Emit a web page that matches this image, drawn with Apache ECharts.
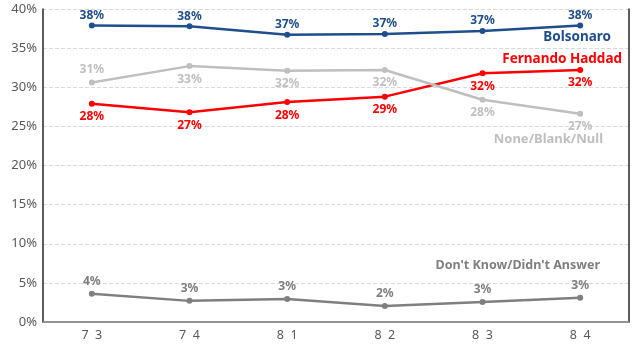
<!DOCTYPE html>
<html><head><meta charset="utf-8">
<script src="https://cdn.jsdelivr.net/npm/echarts@6/dist/echarts.min.js"></script>
<style>html,body{margin:0;padding:0;background:#fff}#c{width:640px;height:345px}</style>
</head><body><div id="c"></div>
<script>
const categories = ['7  3', '7  4', '8  1', '8  2', '8  3', '8  4'];
const bolsonaro = [37.9, 37.8, 36.7, 36.8, 37.2, 37.9];
const haddad = [27.9, 26.8, 28.1, 28.8, 31.8, 32.2];
const noneBlank = [30.6, 32.7, 32.1, 32.2, 28.4, 26.6];
const dontKnow = [3.6, 2.7, 2.95, 2.05, 2.55, 3.1];
const yTicks = [0, 5, 10, 15, 20, 25, 30, 35, 40];

const font = 'Noto Sans';
function mk(name, data, color, posFn, dist) {
  return {
    name, type: 'line', data: data.map((v, i) => ({
      value: v,
      label: { position: posFn(i) }
    })),
    symbol: 'circle', symbolSize: 6,
    lineStyle: { color, width: 2.5 },
    itemStyle: { color },
    label: {
      show: true, formatter: p => Math.round(p.value) + '%',
      color, fontFamily: font, fontWeight: 'bold', fontSize: 12, distance: dist
    },
    z: 3
  };
}
const chart = echarts.init(document.getElementById('c'));
chart.setOption({
  animation: false,
  grid: { left: 43, right: 11, top: 9, bottom: 23 },
  xAxis: [{
    type: 'category', data: categories, boundaryGap: true,
    axisLine: { lineStyle: { color: '#262626', width: 1.5 } },
    axisTick: { show: false },
    axisLabel: { color: '#595959', fontFamily: font, fontSize: 12.5, margin: 7 }
  }, {
    type: 'category', data: categories, position: 'top',
    axisLine: { show: true, lineStyle: { color: '#a6a6a6', width: 1.5 } },
    axisTick: { show: false }, axisLabel: { show: false }
  }],
  yAxis: [{
    type: 'value', min: 0, max: 40, interval: 5,
    axisLine: { show: true, lineStyle: { color: '#262626', width: 1.5 } },
    axisTick: { show: false },
    splitLine: { lineStyle: { color: '#d9d9d9', type: 'dashed' } },
    axisLabel: {
      color: '#595959', fontFamily: font, fontSize: 13, margin: 6,
      formatter: v => yTicks.includes(v) ? v + '%' : ''
    }
  }, {
    type: 'value', min: 0, max: 40, interval: 5, position: 'right',
    axisLine: { show: true, lineStyle: { color: '#262626', width: 1.5 } },
    axisTick: { show: false }, axisLabel: { show: false }, splitLine: { show: false }
  }],
  series: [
    mk('Bolsonaro', bolsonaro, '#1f4e8c', i => 'top', 1),
    mk('Fernando Haddad', haddad, '#ff0000', i => 'bottom', 4),
    mk('None/Blank/Null', noneBlank, '#bfbfbf', i => i === 0 ? 'top' : 'bottom', 4),
    mk("Don't Know/Didn't Answer", dontKnow, '#7f7f7f', i => 'top', 3)
  ],
  graphic: [
    { type: 'text', right: 29, top: 30, style: { text: 'Bolsonaro', fill: '#1f4e8c', font: 'bold 13.5px "Noto Sans"' } },
    { type: 'text', right: 18, top: 52, style: { text: 'Fernando Haddad', fill: '#ff0000', font: 'bold 13.5px "Noto Sans"' } },
    { type: 'text', right: 37, top: 133, style: { text: 'None/Blank/Null', fill: '#bfbfbf', font: 'bold 13px "Noto Sans"' } },
    { type: 'text', right: 40, top: 259, style: { text: "Don't Know/Didn't Answer", fill: '#7f7f7f', font: 'bold 12.5px "Noto Sans"' } }
  ]
});
</script></body></html>
